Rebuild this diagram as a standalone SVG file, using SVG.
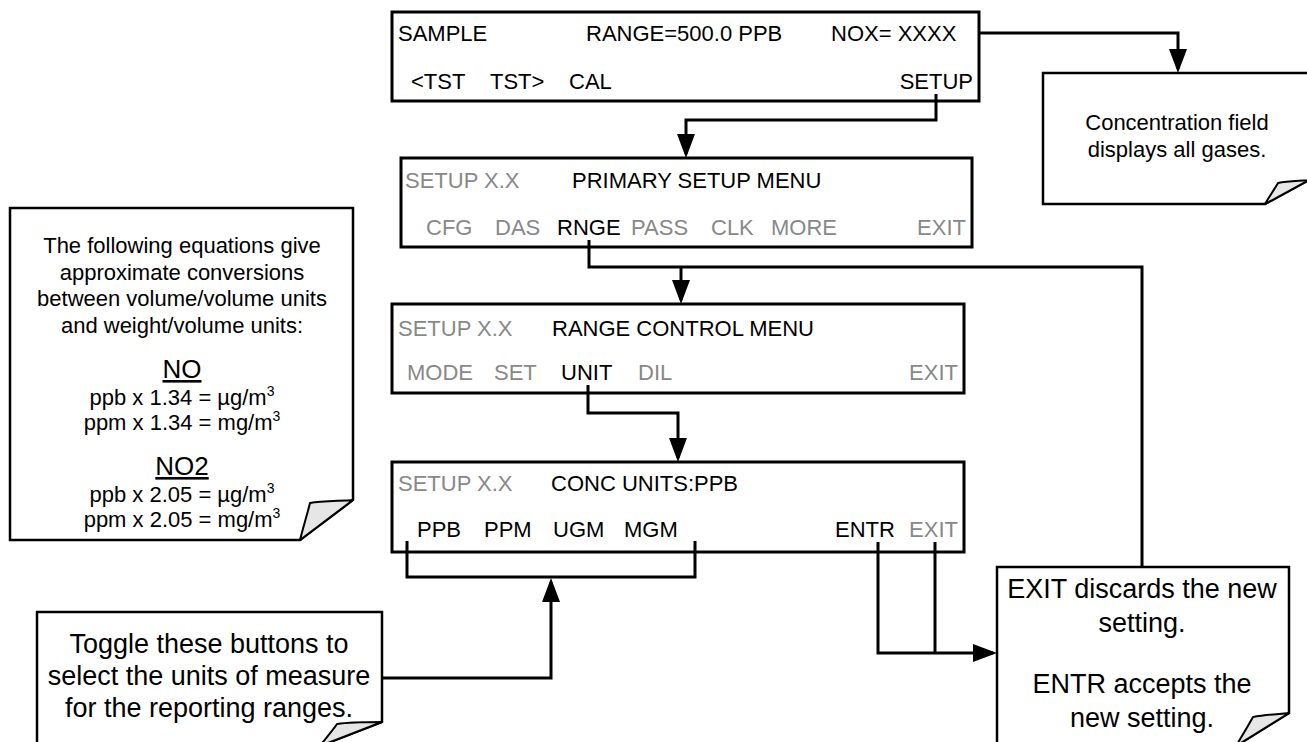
<svg xmlns="http://www.w3.org/2000/svg" width="1307" height="742" viewBox="0 0 1307 742">
  <defs>
    <marker id="arrow" markerUnits="userSpaceOnUse" markerWidth="24" markerHeight="18" refX="20" refY="9" orient="auto">
      <path d="M0,0 L24,9 L0,18 Z" fill="#000"/>
    </marker>
    <style>
      .screen { fill:#fff; stroke:#000; stroke-width:3; }
      .t { font-family:"Liberation Sans", Arial, sans-serif; font-size:22px; fill:#000; }
      .g { fill:#888; }
      .note { fill:#fff; stroke:#000; stroke-width:2.5; }
      .curl { fill:#e6e6e6; stroke:#000; stroke-width:2; stroke-linejoin:round; }
      .nt { font-family:"Liberation Sans", Arial, sans-serif; fill:#000; text-anchor:middle; }
      .wire { fill:none; stroke:#000; stroke-width:3; }
      .arr { marker-end:url(#arrow); }
    </style>
  </defs>
  <rect width="1307" height="742" fill="#fff"/>

  <!-- front panel: sample display -->
  <g id="sample-screen">
    <rect class="screen" x="392" y="12" width="587" height="89"/>
    <text class="t" x="398" y="41">SAMPLE</text>
    <text class="t" x="586" y="41">RANGE=500.0 PPB</text>
    <text class="t" x="831" y="41">NOX= XXXX</text>
    <text class="t" x="411" y="89">&lt;TST</text>
    <text class="t" x="490" y="89">TST&gt;</text>
    <text class="t" x="569" y="89">CAL</text>
    <text class="t" x="973" y="89" text-anchor="end">SETUP</text>
  </g>

  <!-- primary setup menu -->
  <g id="primary-setup">
    <rect class="screen" x="401" y="158" width="571" height="89"/>
    <text class="t g" x="405" y="188">SETUP X.X</text>
    <text class="t" x="572" y="188">PRIMARY SETUP MENU</text>
    <text class="t g" x="426" y="235">CFG</text>
    <text class="t g" x="495" y="235">DAS</text>
    <text class="t" x="557" y="235">RNGE</text>
    <text class="t g" x="631" y="235">PASS</text>
    <text class="t g" x="711" y="235">CLK</text>
    <text class="t g" x="771" y="235">MORE</text>
    <text class="t g" x="966" y="235" text-anchor="end">EXIT</text>
  </g>

  <!-- range control menu -->
  <g id="range-control">
    <rect class="screen" x="392" y="304" width="572" height="89"/>
    <text class="t g" x="398" y="336">SETUP X.X</text>
    <text class="t" x="552" y="336">RANGE CONTROL MENU</text>
    <text class="t g" x="407" y="380">MODE</text>
    <text class="t g" x="494" y="380">SET</text>
    <text class="t" x="561" y="380">UNIT</text>
    <text class="t g" x="638" y="380">DIL</text>
    <text class="t g" x="958" y="380" text-anchor="end">EXIT</text>
  </g>

  <!-- concentration units menu -->
  <g id="conc-units">
    <rect class="screen" x="392" y="462" width="572" height="90"/>
    <text class="t g" x="398" y="491">SETUP X.X</text>
    <text class="t" x="551" y="491">CONC UNITS:PPB</text>
    <text class="t" x="417" y="537">PPB</text>
    <text class="t" x="484" y="537">PPM</text>
    <text class="t" x="553" y="537">UGM</text>
    <text class="t" x="624" y="537">MGM</text>
    <text class="t" x="835" y="537">ENTR</text>
    <text class="t g" x="958" y="537" text-anchor="end">EXIT</text>
  </g>

  <!-- callout: concentration field -->
  <g id="note-concentration">
    <path class="note" d="M1043,73 H1309 V180 L1265,204 H1043 Z"/>
    <path class="curl" d="M1309,180 C1298,181 1288,181 1278,183 C1274,190 1269,197 1265,204 Z"/>
    <text class="nt" font-size="22" x="1177" y="130">Concentration field</text>
    <text class="nt" font-size="22" x="1177" y="157">displays all gases.</text>
  </g>

  <!-- callout: unit conversions -->
  <g id="note-conversions">
    <path class="note" d="M10,208 H353 V500 L300,540 H10 Z"/>
    <path class="curl" d="M353,500 C342,501 322,501 310,503 C307,515 303,528 300,540 Z"/>
    <text class="nt" font-size="22" x="182" y="253">The following equations give</text>
    <text class="nt" font-size="22" x="182" y="280">approximate conversions</text>
    <text class="nt" font-size="22" x="182" y="306">between volume/volume units</text>
    <text class="nt" font-size="22" x="182" y="333">and weight/volume units:</text>
    <text class="nt" font-size="26" x="182" y="378" text-decoration="underline">NO</text>
    <text class="nt" font-size="22" x="182" y="405">ppb x 1.34 = µg/m<tspan font-size="14" dy="-9">3</tspan></text>
    <text class="nt" font-size="22" x="182" y="430">ppm x 1.34 = mg/m<tspan font-size="14" dy="-9">3</tspan></text>
    <text class="nt" font-size="26" x="182" y="475" text-decoration="underline">NO2</text>
    <text class="nt" font-size="22" x="182" y="502">ppb x 2.05 = µg/m<tspan font-size="14" dy="-9">3</tspan></text>
    <text class="nt" font-size="22" x="182" y="527">ppm x 2.05 = mg/m<tspan font-size="14" dy="-9">3</tspan></text>
  </g>

  <!-- callout: toggle buttons -->
  <g id="note-toggle">
    <path class="note" d="M37,612 H382 V722 L320,746 H37 Z"/>
    <path class="curl" d="M382,722 C370,722 350,722 337,724 C333,730 326,738 320,746 Z"/>
    <text class="nt" font-size="27" x="209" y="653">Toggle these buttons to</text>
    <text class="nt" font-size="27" x="209" y="685">select the units of measure</text>
    <text class="nt" font-size="27" x="209" y="717">for the reporting ranges.</text>
  </g>

  <!-- callout: exit / entr -->
  <g id="note-exit">
    <path class="note" d="M997,567 H1289 V713 L1236,746 H997 Z"/>
    <path class="curl" d="M1289,713 C1278,714 1265,715 1253,717 C1248,726 1242,736 1236,746 Z"/>
    <text class="nt" font-size="27" x="1142" y="598">EXIT discards the new</text>
    <text class="nt" font-size="27" x="1142" y="632">setting.</text>
    <text class="nt" font-size="27" x="1142" y="693">ENTR accepts the</text>
    <text class="nt" font-size="27" x="1142" y="727">new setting.</text>
  </g>

  <!-- connectors -->
  <g id="connectors">
    <path class="wire arr" d="M936,94 V120 H686 V154"/>
    <path class="wire arr" d="M979,33 H1178 V69"/>
    <path class="wire" d="M589,240 V267 H1142 V567"/>
    <path class="wire arr" d="M681,267 V300"/>
    <path class="wire arr" d="M588,385 V413 H678 V458"/>
    <path class="wire" d="M407,541 V577 H695 V541"/>
    <path class="wire arr" d="M382,678 H551 V582"/>
    <path class="wire arr" d="M878,542 V653 H993"/>
    <path class="wire" d="M935,542 V653"/>
  </g>
</svg>
